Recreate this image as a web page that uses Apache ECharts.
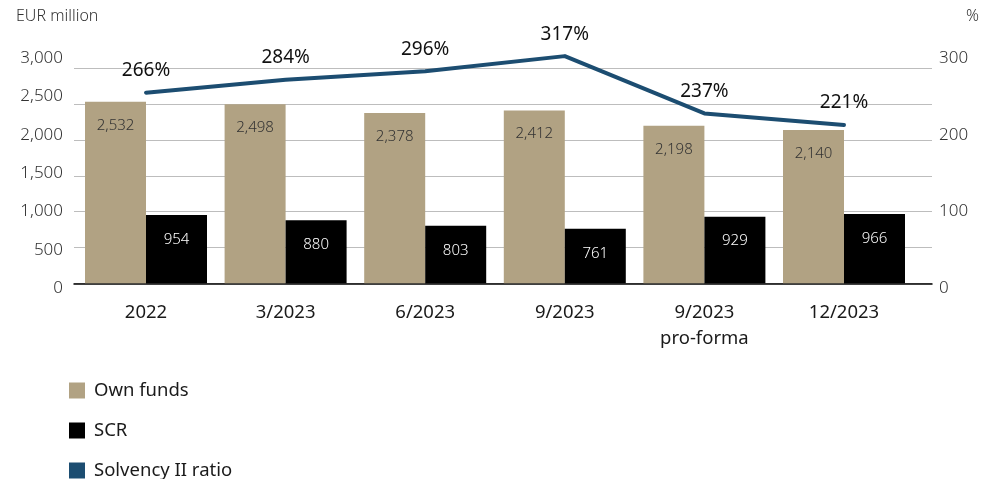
<!DOCTYPE html>
<html>
<head>
<meta charset="utf-8">
<script src="https://cdn.jsdelivr.net/npm/echarts@6/dist/echarts.min.js"></script>
<style>
  html, body { margin: 0; padding: 0; background: #fff; }
  #chart { width: 984px; height: 479px; }
</style>
</head>
<body>
<div id="chart"></div>
<script>
// Solvency position: own funds and SCR (EUR million) with the Solvency II ratio (%)
const categories = ['2022', '3/2023', '6/2023', '9/2023', '9/2023\npro-forma', '12/2023'];
const ownFunds = [2532, 2498, 2378, 2412, 2198, 2140];
const scr = [954, 880, 803, 761, 929, 966];
const solvencyRatio = [266, 284, 296, 317, 237, 221];
const seriesNames = ['Own funds', 'SCR', 'Solvency II ratio'];
const leftTicks = { min: 0, max: 3000, interval: 500 };
const rightTicks = { min: 0, max: 300, interval: 100 };

const FONT = '"Noto Sans", "Open Sans", sans-serif';
const OWN_COLOR = '#b1a283';
const SCR_COLOR = '#000000';
const LINE_COLOR = '#1c4d71';

const fmt = v => v.toLocaleString('en-US');

const chart = echarts.init(document.getElementById('chart'), null, { renderer: 'canvas' });

const plotTop = 68.3, plotBottom = 479 - 283.3;

// one legend entry per row, stacked down the lower left
const legends = seriesNames.map((name, i) => ({
  orient: 'vertical',
  left: 69,
  top: 381 + i * 40,
  padding: 0,
  itemWidth: 16,
  itemHeight: 16,
  icon: 'rect',
  selectedMode: false,
  textStyle: { fontFamily: FONT, fontSize: 18.5, fontWeight: 400, color: '#1a1a1a', padding: [0, 0, 0, 4] },
  data: [name]
}));

chart.setOption({
  animation: false,
  textStyle: { fontFamily: FONT },
  grid: [
    // data grid
    { left: 76.2, right: 70.2, top: plotTop, bottom: plotBottom },
    // horizontal rules and baseline
    { left: 74, right: 52, top: plotTop, bottom: plotBottom },
    // tick label columns
    { left: 74, right: 52, top: 58, bottom: 479 - 288 }
  ],
  legend: legends,
  graphic: [
    { type: 'text', left: 16, top: 8, style: { text: 'EUR million', font: '300 16px ' + FONT, fill: '#333' } },
    { type: 'text', left: 966, top: 8, style: { text: '%', font: '300 16px ' + FONT, fill: '#333' } }
  ],
  xAxis: [
    {
      type: 'category', gridIndex: 0, data: categories,
      axisLine: { show: false }, axisTick: { show: false },
      axisLabel: { fontFamily: FONT, fontSize: 18.5, fontWeight: 400, color: '#1a1a1a', margin: 16, lineHeight: 26 }
    },
    {
      type: 'value', gridIndex: 1, min: 0, max: 1,
      axisLine: { show: true, lineStyle: { color: '#000', width: 1.5 } },
      axisTick: { show: false }, axisLabel: { show: false }, splitLine: { show: false }
    },
    {
      type: 'value', gridIndex: 2, min: 0, max: 1, show: false
    }
  ],
  yAxis: [
    {
      type: 'value', gridIndex: 0, ...leftTicks,
      axisLine: { show: false }, axisTick: { show: false }, axisLabel: { show: false }, splitLine: { show: false }
    },
    {
      type: 'value', gridIndex: 0, position: 'right', ...rightTicks,
      axisLine: { show: false }, axisTick: { show: false }, axisLabel: { show: false }, splitLine: { show: false }
    },
    {
      type: 'value', gridIndex: 1, ...leftTicks, z: 0,
      axisLine: { show: false }, axisTick: { show: false }, axisLabel: { show: false },
      splitLine: { show: true, lineStyle: { color: '#bdbdbd', width: 1 } }
    },
    {
      type: 'value', gridIndex: 2, ...leftTicks,
      axisLine: { show: false }, axisTick: { show: false }, splitLine: { show: false },
      axisLabel: { fontFamily: FONT, fontSize: 17, fontWeight: 300, color: '#333', margin: 11, formatter: v => fmt(v) }
    },
    {
      type: 'value', gridIndex: 2, position: 'right', ...rightTicks,
      axisLine: { show: false }, axisTick: { show: false }, splitLine: { show: false },
      axisLabel: { fontFamily: FONT, fontSize: 17, fontWeight: 300, color: '#333', margin: 7 }
    }
  ],
  series: [
    {
      name: 'Own funds', type: 'bar', xAxisIndex: 0, yAxisIndex: 0,
      data: ownFunds, barWidth: 61, barGap: '0%',
      itemStyle: { color: OWN_COLOR },
      label: {
        show: true, position: 'insideTop', distance: 16,
        fontFamily: FONT, fontSize: 15, fontWeight: 300, color: '#333', formatter: p => fmt(p.value)
      }
    },
    {
      name: 'SCR', type: 'bar', xAxisIndex: 0, yAxisIndex: 0,
      data: scr, barWidth: 61, barGap: '0%',
      itemStyle: { color: SCR_COLOR },
      label: {
        show: true, position: 'insideTop', distance: 17,
        fontFamily: FONT, fontSize: 15, fontWeight: 300, color: '#fff', formatter: p => fmt(p.value)
      }
    },
    {
      name: 'Solvency II ratio', type: 'line', xAxisIndex: 0, yAxisIndex: 1,
      data: solvencyRatio, z: 5, clip: false,
      symbol: 'circle', symbolSize: 1, showSymbol: true,
      lineStyle: { color: LINE_COLOR, width: 4, cap: 'round', join: 'round' },
      itemStyle: { color: LINE_COLOR },
      label: {
        show: true, position: 'top', distance: 12,
        fontFamily: FONT, fontSize: 19, fontWeight: 400, color: '#111', formatter: p => p.value + '%'
      }
    }
  ]
});
</script>
</body>
</html>
